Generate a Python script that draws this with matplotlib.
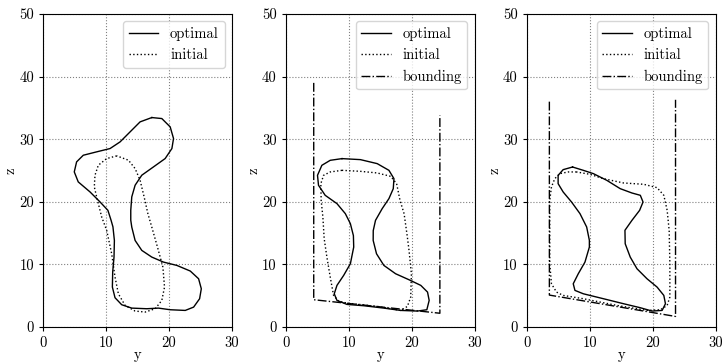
import numpy as np
import matplotlib
matplotlib.use("Agg")
import matplotlib.pyplot as plt

plt.rcParams['font.family'] = 'cmr10'
plt.rcParams['mathtext.fontset'] = 'cm'
plt.rcParams['axes.unicode_minus'] = False
plt.rcParams['font.size'] = 10.5

# ---- case 1: no bounding box ----
opt1_y = [17.27, 15.41, 13.82, 12.23, 10.64, 8.51, 6.39, 5.33, 4.96, 5.59, 7.45, 9.04,
          10.3, 10.8, 11.1, 11.33, 11.27, 11.06, 11.01, 11.43, 12.49, 14.09, 16.48,
          18.33, 20.19, 22.58, 23.91, 24.86, 25.13, 24.70, 23.38, 21.25, 19.13, 17.27,
          15.68, 14.62, 14.09, 13.93, 13.93, 14.09, 14.62, 15.68, 17.54, 19.39, 20.46,
          20.72, 20.19, 18.86, 17.27]
opt1_z = [33.46, 32.77, 31.17, 29.57, 28.51, 27.98, 27.44, 26.38, 24.78, 23.18, 21.59, 19.99,
          18.64, 17.06, 16.0, 13.83, 11.17, 8.78, 6.38, 4.68, 3.56, 3.02, 2.92,
          3.02, 2.76, 2.65, 3.18, 4.52, 6.11, 7.71, 8.94, 9.84, 10.37, 11.17,
          12.24, 13.83, 15.96, 17.06, 18.66, 20.79, 22.65, 24.25, 25.58, 26.91, 28.51,
          30.11, 31.97, 33.30, 33.46]
ini1_y = [11.70, 10.11, 8.78, 8.25, 8.14, 8.51, 9.31, 10.11, 10.90, 11.43, 11.96, 13.03,
          14.62, 16.22, 17.81, 18.86, 19.29, 19.03, 18.17, 17.27, 16.65, 16.05, 15.41,
          14.62, 13.56, 11.70]
ini1_z = [27.34, 26.91, 25.85, 24.25, 22.39, 20.79, 17.59, 15.43, 11.70, 7.98, 5.31, 3.45,
          2.55, 2.39, 2.92, 4.25, 6.38, 9.57, 12.77, 15.96, 18.1, 20.79, 23.45,
          25.31, 26.65, 27.34]

# ---- case 2 ----
opt2_y = [8.94, 7.07, 5.74, 5.05, 5.21, 6.27, 8.14, 9.47, 10.27, 10.75, 10.80, 10.27,
          9.20, 8.14, 7.71, 8.14, 9.73, 12.40, 15.59, 18.25, 20.92, 22.41, 22.78, 22.52,
          21.45, 19.58, 17.45, 15.59, 14.42, 13.89, 13.9, 14.26, 15.32, 16.39, 17.08,
          17.19, 16.39, 14.53, 11.86, 8.94]
opt2_z = [26.90, 26.63, 25.83, 24.23, 22.64, 21.04, 19.71, 18.11, 16.51, 14.6, 12.77, 10.11,
          8.24, 6.65, 5.31, 4.25, 3.61, 3.40, 3.02, 2.65, 2.55, 2.76, 4.25, 5.58,
          6.65, 7.55, 8.51, 9.84, 11.70, 13.83, 15.4, 17.04, 18.91, 20.51, 22.10,
          23.70, 25.03, 26.10, 26.74, 26.90]
ini2_y = [8.94, 7.07, 6.01, 5.58, 5.63, 5.9, 6.11, 6.54, 7.07, 7.60, 8.40, 9.73, 14.53,
          18.25, 19.32, 19.85, 19.96, 19.58, 19.3, 18.8, 18.15, 17.61, 16.66, 14.53,
          11.86, 8.94]
ini2_z = [25.03, 24.77, 24.23, 22.90, 20.24, 17.6, 14.12, 11.17, 7.98, 5.05, 4.14, 3.82, 3.29,
          2.65, 3.29, 4.78, 8.51, 12.24, 14.5, 18.1, 20.24, 22.90, 24.07, 24.61,
          24.87, 25.03]
bnd2_y = [4.45, 4.45, 24.48, 24.48]
bnd2_z = [39.0, 4.36, 2.2, 33.8]

# ---- case 3 ----
opt3_y = [7.28, 5.79, 4.99, 4.99, 5.79, 7.12, 8.46, 9.52, 9.95, 9.95, 9.25, 8.19, 7.39,
          7.66, 8.99, 12.18, 15.38, 18.04, 19.90, 21.50, 22.03, 21.77, 20.70, 19.10,
          17.51, 16.44, 15.64, 15.6, 16.71, 17.93, 18.47, 18.04, 16.71, 14.85, 12.72,
          10.59, 8.99, 7.28]
opt3_z = [25.56, 25.14, 24.23, 22.90, 21.57, 19.97, 18.11, 15.98, 13.85, 12.77, 10.37, 8.51, 6.91,
          5.85, 5.31, 4.52, 3.72, 3.08, 2.55, 2.65, 3.72, 5.05, 6.38, 7.71,
          9.31, 11.17, 13.30, 15.45, 17.04, 18.64, 19.97, 21.04, 21.41, 22.10, 23.43,
          24.50, 25.03, 25.56]
ini3_y = [7.92, 6.59, 5.26, 4.46, 3.93, 3.66, 3.66, 3.66, 3.93, 4.73, 5.79, 8.99, 14.31,
          19.10, 21.24, 22.30, 22.73, 22.73, 22.62, 22.30, 21.77, 20.70, 18.57, 15.38,
          12.18, 10.05, 7.92]
ini3_z = [24.77, 24.77, 24.50, 23.70, 22.37, 20.24, 15.43, 10.11, 6.91, 5.58, 5.05, 4.52, 3.45,
          2.65, 2.76, 3.45, 4.78, 10.11, 15.43, 18.64, 21.04, 22.26, 22.80, 23.01,
          23.70, 24.39, 24.77]
bnd3_y = [3.6, 3.6, 23.63, 23.63]
bnd3_z = [36.0, 5.1, 1.69, 36.3]

cases = [
    (opt1_y, opt1_z, ini1_y, ini1_z, None, None),
    (opt2_y, opt2_z, ini2_y, ini2_z, bnd2_y, bnd2_z),
    (opt3_y, opt3_z, ini3_y, ini3_z, bnd3_y, bnd3_z),
]

fig = plt.figure(figsize=(7.22, 3.64), dpi=100)
lefts = [0.0596, 0.3957, 0.7295]
for left, (oy, oz, iy, iz, by, bz) in zip(lefts, cases):
    ax = fig.add_axes([left, 0.1016, 0.2617, 0.8599])
    ax.plot(oy, oz, 'k-', lw=1.0, label='optimal')
    ax.plot(iy, iz, 'k:', lw=1.0, label='initial')
    if by is not None:
        ax.plot(by, bz, 'k-.', lw=1.0, label='bounding')
    ax.set_xlim(0, 30)
    ax.set_ylim(0, 50)
    ax.set_xticks([0, 10, 20, 30])
    ax.set_yticks([0, 10, 20, 30, 40, 50])
    ax.tick_params(length=3)
    ax.grid(True, color='gray', linestyle=':', linewidth=0.8)
    ax.set_xlabel('y', labelpad=-1)
    ax.set_ylabel('z', labelpad=1)
    ax.legend(loc='upper right')

fig.savefig('out.png', dpi=100)
